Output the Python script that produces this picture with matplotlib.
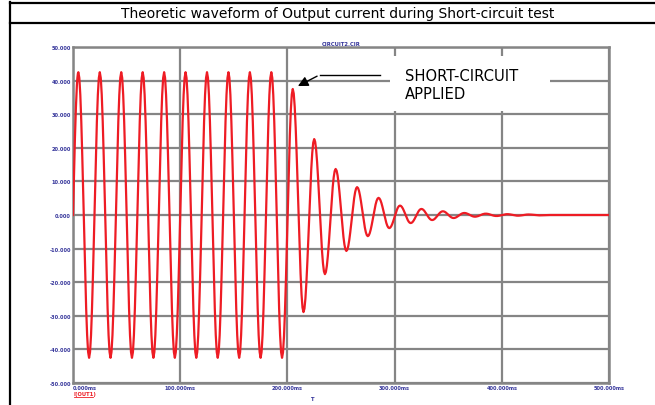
"""Theoretic output-current waveform during a short-circuit test (SPICE-style plot)."""
import numpy as np
import matplotlib
matplotlib.use("Agg")
import matplotlib.pyplot as plt
from matplotlib.lines import Line2D
from matplotlib.patches import Rectangle

# ── data: extrema of the trace (ms, A) ──
pre_times = [5, 15, 25, 35, 45, 55, 65, 75, 85, 95, 105, 115, 125, 135, 145,
             155, 165, 175, 185, 195]
pre_values = [42.5, -42.5, 42.5, -42.5, 42.5, -42.5, 42.5, -42.5, 42.5, -42.5,
              42.5, -42.5, 42.5, -42.5, 42.5, -42.5, 42.5, -42.5, 42.5, -42.5]
post_times = [205, 215, 225, 235, 245, 255, 265, 275, 285, 295, 305, 315, 325,
              335, 345, 355, 365, 375, 385, 395, 405, 415, 425, 435, 445]
post_values = [37.5, -28.9, 22.6, -17.6, 13.7, -10.7, 8.3, -6.3, 5.1, -3.9,
               2.8, -2.4, 1.8, -1.5, 1.1, -0.9, 0.6, -0.5, 0.4, -0.3,
               0.25, -0.2, 0.15, -0.1, 0.0]
end_time = 500

x_ticks = [0, 100, 200, 300, 400, 500]
x_labels = ["0.000ms", "100.000ms", "200.000ms", "300.000ms", "400.000ms", "500.000ms"]
y_ticks = [-50, -40, -30, -20, -10, 0, 10, 20, 30, 40, 50]
y_labels = ["-50.000", "-40.000", "-30.000", "-20.000", "-10.000", "0.000",
            "10.000", "20.000", "30.000", "40.000", "50.000"]

TITLE = "Theoretic waveform of Output current during Short-circuit test"
RED = "#ee1c24"
GRID = "#858585"
BLUE = "#34349a"


def trace(times, values):
    """Join successive extrema with half-cosine arcs (sine-like rendering)."""
    ts, vs = [0.0], [0.0]
    # rising quarter wave from the origin to the first peak
    s = np.linspace(0, 1, 12)[1:]
    ts += list(times[0] * s)
    vs += list(values[0] * np.sin(np.pi / 2 * s))
    for (t0, v0), (t1, v1) in zip(zip(times[:-1], values[:-1]), zip(times[1:], values[1:])):
        s = np.linspace(0, 1, 12)[1:]
        ts += list(t0 + (t1 - t0) * s)
        vs += list(v0 + (v1 - v0) * (1 - np.cos(np.pi * s)) / 2)
    ts.append(end_time)
    vs.append(values[-1])
    return np.array(ts), np.array(vs)


t, i_out = trace(pre_times + post_times, pre_values + post_values)

fig = plt.figure(figsize=(6.55, 4.06), dpi=100)
ax = fig.add_axes([73 / 655, 1 - 384 / 406, (609 - 73) / 655, (384 - 48) / 406])

ax.plot(t, i_out, color=RED, lw=1.6, zorder=3)
ax.set_xlim(0, 500)
ax.set_ylim(-50, 50)

ax.set_axisbelow(True)
ax.grid(True, color=GRID, lw=1.6)
for sp in ax.spines.values():
    sp.set_color(GRID)
    sp.set_linewidth(1.8)

ax.set_yticks(y_ticks)
ax.set_yticklabels(y_labels, fontsize=3.6, color=BLUE, fontweight="bold")
ax.set_xticks(x_ticks)
ax.set_xticklabels(x_labels, fontsize=3.6, color=BLUE, fontweight="bold")
ax.tick_params(length=0, pad=1.5)
ax.get_xticklabels()[0].set_horizontalalignment("left")

# white box behind the annotation, hiding the grid there
ax.add_patch(Rectangle((296, 31), 149, 16.3, facecolor="white", edgecolor="none", zorder=2))
ax.text(309.5, 38.8, "SHORT-CIRCUIT\nAPPLIED", fontsize=10.6, ha="left", va="center",
        linespacing=1.2, zorder=4)
ax.plot([286, 230], [41.7, 41.7], color="black", lw=1.0, zorder=4)
ax.annotate("", xy=(207.5, 38.0), xytext=(230, 41.7),
            arrowprops=dict(arrowstyle="-|>", color="black", lw=1.0, mutation_scale=15),
            zorder=4)

# small SPICE captions
fig.text(341 / 655, 1 - 44 / 406, "CIRCUIT2.CIR", fontsize=3.8, color=BLUE, ha="center",
         va="center", fontweight="bold")
fig.text(312 / 655, 1 - 400 / 406, "T", fontsize=3.8, color=BLUE, ha="center", va="center",
         fontweight="bold")
fig.text(74 / 655, 1 - 395 / 406, "I(OUT1)", fontsize=3.8, color=RED, ha="left", va="center",
         fontweight="bold")
fig.add_artist(Line2D([74 / 655, 93 / 655], [1 - 398 / 406] * 2, color=RED, lw=0.6))

# outer frame and title box
fig.add_artist(Line2D([10 / 655, 10 / 655], [0, 1 - 3 / 406], color="black", lw=1.6))
fig.add_artist(Line2D([10 / 655, 1], [1 - 3.5 / 406] * 2, color="black", lw=1.6))
fig.add_artist(Line2D([10 / 655, 1], [1 - 24 / 406] * 2, color="black", lw=1.6))
fig.text(338 / 655, 1 - 14 / 406, TITLE, fontsize=10.0, ha="center", va="center")

fig.savefig("out.png", dpi=100)
